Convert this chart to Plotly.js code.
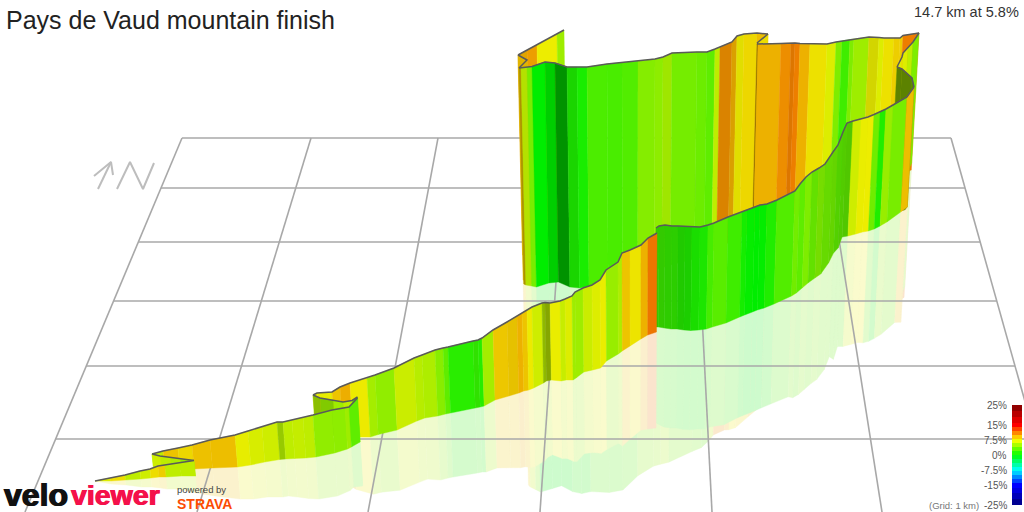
<!DOCTYPE html>
<html><head><meta charset="utf-8">
<script src="https://cdn.plot.ly/plotly-3.0.1.min.js"></script>
<style>html,body{margin:0;padding:0;background:#fff;overflow:hidden}#chart{width:1024px;height:512px}</style>
</head><body><div id="chart"></div>
<script>
// Route, one array set per leg: along = position, top = road surface, base = foot of wall,
// grade = % slope per band, shade = light factor per band.
const tailAlong=[518,527,537,557,564];
const tailTop=[55,50,45,34,30];
const tailBase=[255,255,255,255,255];
const tailGrade=[9.5,10,7.5,5];
const tailShade=[.95,1,1,1];

const curlAlong=[519,527,518];
const curlTop=[68,60,55];
const curlBase=[284,284,280];
const curlGrade=[9,9];
const curlShade=[.95,.95];

const farAlong=[519,521,527,532,545,555,567,577,587,607,622,638,655,663,672,697,707,715,720,732,737,744,757,768];
const farTop=[68,67.8,67,66.5,62,63,67,67,67,64,62.5,61,59,57,53,52,52,49,47,42,36,34,33,34];
const farBase=[284,285,286,287,283,282,287,288,287,286,284,276,270,268,265,259,257,252,248,243,240,238,232,228];
const farGrade=[8.5,6,3.8,0,0,0,.9,.8,2.4,2.3,2.6,4.2,4.5,5.2,3.7,3.4,3,6,10.5,9.5,7.6,8.2,9];
const farShade=[.72,.95,1,1,.87,.62,.9,1,1,1,1,1,1,.97,1,1,1,1,.92,.92,.95,1,1];

const bridgeAlong=[757,768];
const bridgeTop=[43,34];
const bridgeBase=[232,228];
const bridgeGrade=[8];
const bridgeShade=[1];

const upperAlong=[757,758,781,791,795,800,810,827,836,842,850,854,869,879,884,894,900,903,919];
const upperTop=[43.5,44,43.5,43,43,43.5,43.5,44,42,41,39.5,39,37,37.5,38,38,38,35.5,33];
const upperBase=[232,232,222,218,216,214,210,205,200,197,195,193,188,185,183,180,178,176,170];
const upperGrade=[9.4,9.4,10.5,11,11,9.4,7.9,7,4,2,4,5,7.4,7,7.9,8.5,8.5,11];
const upperShade=[.6,1,1,.93,1,1,1,1,1,1,1,1,.9,1,1,1,1,1];

const cornerAlong=[897,902,903,908,913,919];
const cornerTop=[67,57,53,48,42,33];
const cornerBase=[190,190,188,185,175,163];
const cornerGrade=[7,8,7,6,4];
const cornerShade=[1,1,1,1,1];

const backfaceAlong=[914,912,902,897];
const backfaceTop=[87,78,69,67];
const backfaceBase=[207,210,212,215];
const backfaceGrade=[5.3,5.3,5.3];
const backfaceShade=[.55,.55,.55];

const climbAlong=[656,659,665,672,678,685,692,700,708,714,728,742,747,755,760,767,777,795,800,806,812,819,825,833,838,843,847,853,861,868,874,880,886,893,907,914];
const climbTop=[228,226,225,226,226,226.5,227,227,225,223,217,212,210,207,205,204,200,191,184,177,172,168,164,152,145,132,123,121,119,117,114.5,112,109,105,97,87];
const climbBase=[327,327,328,329,329,330,330.5,330,329,327,323,317,315,312,310,308,304,296,293,288,283,278,274,263,253,248,237,236,234,232,231,229,226,222,212,207];
const climbGrade=[1.9,1.9,1.7,1.6,1.2,1,.9,.9,2.2,2.8,2,.7,.2,0,.1,1,2.6,3.6,3,4,3.3,4,3.5,3.5,3,3,3,6.5,7.4,7.5,3.5,1,4.8,3.8,9,9.5];
const climbShade=[.85,.85,.86,.87,.85,.87,.93,.97,1,1,1,1,1,1,1,1,1,1,1,1,.95,.93,.92,.9,.88,.86,.84,1,1,1,1,1,1,1,1,1];

const middleAlong=[313,317,332,340,350,367,375,394,414,422,435,443,448,473,478,482,493,507,517,522,527,532,542,545,550,560,565,572,575,583,592,600,606,618,622,630,641,648,657];
const middleTop=[395,393,392,387,383,378,375,368,358,355,350,348,347,341,340,338,330,322,316,313,310,307,303,302.5,303,301,299,296,292,288,285,280,270,262,253,250,245,238,233];
const middleBase=[425,427,434,436,437,437,434.5,430,421,418,416,414,413,408,407,406,400,396,393,391,390,388,383,381,380,381,380,380,378,372,370,368,361,354,351,346,339,335,332];
const middleGrade=[7,7.3,8.8,9.5,7.6,5.2,4.6,6.4,5.8,5.5,4.3,3,1.3,1.6,1.2,5.2,8.7,8.7,9.4,8.8,7.6,6.5,5.8,6,7.4,6.3,7,5,5,6.4,7,7.4,4.8,5.5,8.8,7.8,9.4,11.3];
const middleShade=[1,1,1,1,1,1,1,1,1,1,1,1,1,.95,1,1,1,.97,1,1,1,1,.78,.7,1,1,1,1,1,1,1,1,1,1,1,1,1,1];

const hookTwoAlong=[357.5,352,343,333,320,313];
const hookTwoTop=[397,400.5,402,400,398,395];
const hookTwoBase=[442,440,438,436,432,428];
const hookTwoGrade=[3,6,5,4.8,5.5];
const hookTwoShade=[1,1,1,.85,.8];

const lowerAlong=[152,163,178,192,210,235,248,262,277,283,292,303,313,332,345,349,357.5];
const lowerTop=[454,451,448,445,440,435,431,427,422,422,420,417.5,415,410,407.5,407,398];
const lowerBase=[468,469,469,469,468,467,465,462,459.5,459,458.5,458,457,453,449,447,442];
const lowerGrade=[6,8.8,8.2,8.9,9,7.3,6.8,6.5,5.6,6,6.2,6,4.6,4.5,5,3];
const lowerShade=[1,1,1,1,1,1,1,1,.85,1,1,1,1,1,1,1];

const hookOneAlong=[194,190,180,170,160,152];
const hookOneTop=[460.5,460,459,457,456,454];
const hookOneBase=[476,472,470,468,467,466];
const hookOneGrade=[5,4.5,5.5,6,6.5];
const hookOneShade=[1,1,1,1,1];

const startAlong=[95,110,125,140,150,158,165,180,194];
const startTop=[481,478,475,471,469,466,465,463,460.5];
const startBase=[481,481,480,479,478,477,477,476,476];
const startGrade=[7,8,6,6.5,8,8.5,6,6];
const startShade=[1,1,1,1,1,1,1,1];

// draw order is far to near; mirror = how much of the wall height shows in the ground reflection
const legs=[
 [tailAlong,tailTop,tailBase,tailGrade,tailShade,.93],
 [curlAlong,curlTop,curlBase,curlGrade,curlShade,0],
 [farAlong,farTop,farBase,farGrade,farShade,.93],
 [bridgeAlong,bridgeTop,bridgeBase,bridgeGrade,bridgeShade,0],
 [upperAlong,upperTop,upperBase,upperGrade,upperShade,.93],
 [cornerAlong,cornerTop,cornerBase,cornerGrade,cornerShade,.95],
 [backfaceAlong,backfaceTop,backfaceBase,backfaceGrade,backfaceShade,0],
 [climbAlong,climbTop,climbBase,climbGrade,climbShade,.96],
 [middleAlong,middleTop,middleBase,middleGrade,middleShade,.97],
 [hookTwoAlong,hookTwoTop,hookTwoBase,hookTwoGrade,hookTwoShade,.95],
 [lowerAlong,lowerTop,lowerBase,lowerGrade,lowerShade,1],
 [hookOneAlong,hookOneTop,hookOneBase,hookOneGrade,hookOneShade,0],
 [startAlong,startTop,startBase,startGrade,startShade,1]
];

// ground grid
const gridRows=[188,242,301,366,439];
const gridBackRow=138;
const gridFarColumns=[182,311,438,566,693,823,951];
const gridNearColumns=[25,197,368,540,712,882,1056];
const gridFrontRow=512;
const gridLeftFar=182, gridLeftNear=25, gridRightFar=951, gridRightNear=1056;

// legend
const legendGrades=[25,15,7.5,0,-7.5,-15,-25];
const legendLabels=['25%','15%','7.5%','0%','-7.5%','-15%','-25%'];
const scaleStops=[[-25,[0,0,127]],[-15,[0,0,255]],[-7.5,[0,255,255]],[0,[0,255,0]],[7.5,[255,255,0]],[15,[255,0,0]],[25,[127,0,0]]];
const legendSteps=[-25,-22,-19,-16,-14,-12,-10,-8,-6,-4,-2,0,2,4,6,8,10,12,14,16,19,22,25];

const VPX=633, VPY=5100;
const lean=(x,y,yy)=>VPX+(x-VPX)*(yy-VPY)/(y-VPY);
function gradeRGB(g){
  for(let i=1;i<scaleStops.length;i++){
    if(g<=scaleStops[i][0]){
      const [a,ca]=scaleStops[i-1],[b,cb]=scaleStops[i],t=(g-a)/(b-a);
      return ca.map((c,k)=>c+(cb[k]-c)*t);
    }
  }
  return scaleStops[scaleStops.length-1][1];
}
const paint=(g,s)=>'rgb('+gradeRGB(g).map(c=>Math.round(c*.93*s)).join(',')+')';
const veil=(g)=>'rgb('+gradeRGB(g).map(c=>Math.round(c*.18+250*.82)).join(',')+')';
const base={hoverinfo:'skip',showlegend:false,mode:'lines',type:'scatter'};
const traces=[];

// reflections: pale and opaque, so the nearer leg covers the farther one
legs.forEach(([al,top,bot,gr,sh,m])=>{
  if(!m) return;
  gr.forEach((g,i)=>{
    const h0=(bot[i]-top[i])*m,h1=(bot[i+1]-top[i+1])*m;
    const ya=bot[i],yb=bot[i+1],yc=bot[i+1]+h1,yd=bot[i]+h0;
    const c=veil(g);
    traces.push({...base,x:[lean(al[i],top[i],ya),lean(al[i+1],top[i+1],yb),lean(al[i+1],top[i+1],yc),lean(al[i],top[i],yd),lean(al[i],top[i],ya)],
      y:[ya,yb,yc,yd,ya],fill:'toself',fillcolor:c,line:{color:c,width:.4}});
  });
});

// grid
const gridX=[],gridY=[];
gridFarColumns.forEach((f,i)=>{gridX.push(f,gridNearColumns[i],null);gridY.push(gridBackRow,gridFrontRow,null);});
gridX.push(gridLeftFar,gridRightFar,null);gridY.push(gridBackRow,gridBackRow,null);
gridRows.forEach(r=>{
  const t=(r-gridBackRow)/(gridFrontRow-gridBackRow);
  gridX.push(gridLeftFar+(gridLeftNear-gridLeftFar)*t,gridRightFar+(gridRightNear-gridRightFar)*t,null);
  gridY.push(r,r,null);
});
traces.push({...base,x:gridX,y:gridY,line:{color:'#a8a8a8',width:1.6}});

// walls and their top line
legs.forEach(([al,top,bot,gr,sh])=>{
  gr.forEach((g,i)=>{
    const c=paint(g,sh[i]);
    traces.push({...base,x:[al[i],al[i+1],lean(al[i+1],top[i+1],bot[i+1]),lean(al[i],top[i],bot[i]),al[i]],
      y:[top[i],top[i+1],bot[i+1],bot[i],top[i]],fill:'toself',fillcolor:c,line:{color:c,width:.4}});
  });
  traces.push({...base,x:al,y:top,line:{color:'#5a5a5a',width:1.5}});
});

// north marker
const arrowX=[98,111,null,94,111,113,null,117,130,143,154];
const arrowY=[189,162,null,176,162,175,null,189,162,189,163];
traces.push({...base,x:arrowX,y:arrowY,line:{color:'#bdbdbd',width:2}});

// colour legend, drawn through its own overlay axes
traces.push({type:'heatmap',xaxis:'x2',yaxis:'y2',hoverinfo:'skip',showscale:false,
  x:[1012,1022],
  y:legendSteps.slice(1).map((g,i)=>455-(g+legendSteps[i])),
  z:legendSteps.slice(1).map((g,i)=>[(g+legendSteps[i])/2]),
  zmin:-25,zmax:25,zsmooth:false,
  colorscale:scaleStops.map(([g,c])=>[(g+25)/50,'rgb('+c.join(',')+')'])});

const note=(text,x,y,size,color,anchor,extra)=>({text,x,y,xref:'x',yref:'y',showarrow:false,xanchor:anchor,yanchor:'middle',
  font:{family:'"Liberation Sans",Arial,sans-serif',size,color,...(extra||{})},borderpad:0,borderwidth:0,align:anchor});
const annotations=[
  note('Pays de Vaud mountain finish',6,20,25,'#222','left'),
  note('14.7 km at 5.8%',1019,12,14.5,'#333','right'),
  note('(Grid: 1 km)',979,505,9.5,'#777','right'),
  note('<b>velo</b>',4,495,32,'#111','left',{shadow:'0.7px 0 0 #111,-0.7px 0 0 #111'}),
  note('<b>viewer</b>',71,495,28.5,'#f4114a','left',{shadow:'0.6px 0 0 #f4114a,-0.6px 0 0 #f4114a'}),
  note('powered by',177,489.5,9.5,'#444','left'),
  note('<b>STRAVA</b>',177,504,14,'#fc4c02','left')
];
legendGrades.forEach((g,i)=>annotations.push(note(legendLabels[i],1007,455-2*g,10,'#555','right')));

const hidden={visible:false,fixedrange:true};
Plotly.newPlot('chart',traces,{
  width:1024,height:512,margin:{l:0,r:0,t:0,b:0,pad:0},paper_bgcolor:'#fff',plot_bgcolor:'#fff',
  xaxis:{...hidden,range:[0,1024]},yaxis:{...hidden,range:[512,0]},
  xaxis2:{...hidden,range:[0,1024],overlaying:'x'},yaxis2:{...hidden,range:[512,0],overlaying:'y'},
  annotations
},{displayModeBar:false,staticPlot:true});
</script></body></html>
